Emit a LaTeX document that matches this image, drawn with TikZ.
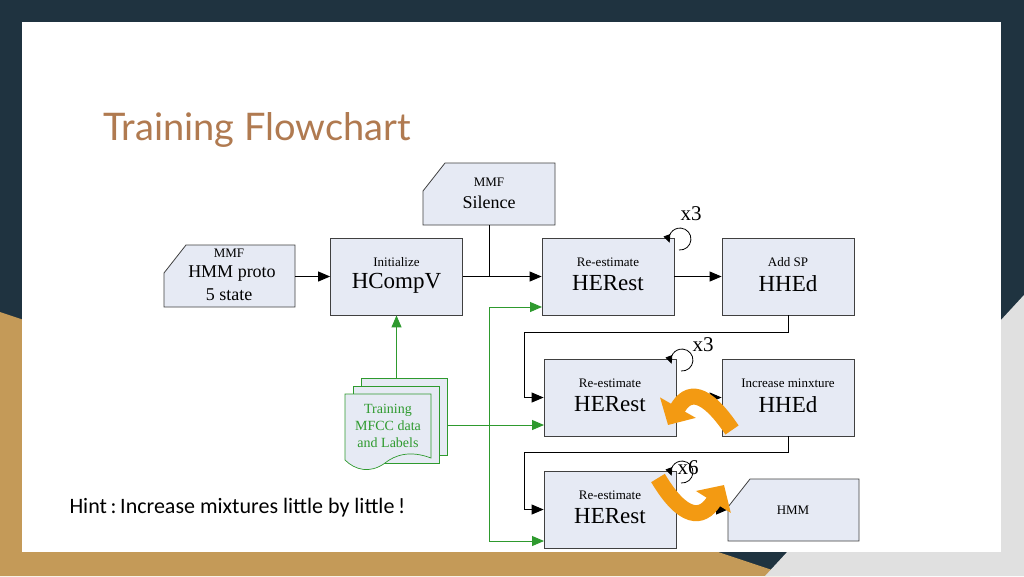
\documentclass[tikz,border=0pt]{standalone}
\usepackage{fontspec}
\setmainfont{Liberation Serif}
\newfontfamily\titlefont{Lato}
\newfontfamily\hintfont{Carlito}
\usetikzlibrary{arrows.meta}
\definecolor{navy}{HTML}{1F3340}
\definecolor{gold}{HTML}{C49A58}
\definecolor{boxfill}{HTML}{E6EAF4}
\definecolor{titlec}{HTML}{B07A50}
\definecolor{grn}{HTML}{2E9A2E}
\definecolor{orng}{HTML}{F39A12}
\tikzset{
 proc/.style={draw=black!75,fill=boxfill,line width=0.8pt,minimum width=132pt,minimum height=77pt,inner sep=0pt},
 conn/.style={draw=black,line width=1pt,-{Triangle[length=12pt,width=10pt]}},
 gconn/.style={draw=grn,line width=1pt,-{Triangle[length=12pt,width=10pt]}},
 smallt/.style={font=\fontsize{13}{14}\selectfont},
 bigt/.style={font=\fontsize{23}{24}\selectfont},
 midt/.style={font=\fontsize{18}{19}\selectfont},
 orarrow/.style={draw=orng,line width=16pt,-{Triangle[length=20pt,width=40pt]}},
 loop/.style={line width=0.8pt,-{Triangle[length=8pt,width=7pt]}},
}
\newcommand{\cutbox}[5]{% x1 y1 x2 y2 name
 \fill[boxfill,draw=black!75,line width=0.8pt] (#1+22,#2) -- (#3,#2) -- (#3,#4) -- (#1,#4) -- (#1,#2+28) -- cycle;
 \coordinate (#5) at ({(#1+#3)/2},{(#2+#4)/2});}
\begin{document}
\begin{tikzpicture}[x=1pt,y=-1pt]
\useasboundingbox (0,0) rectangle (1024,576);
\fill[navy] (0,0) rectangle (1024,576);
\fill[gold] (0,312) -- (790,576) -- (0,576) -- cycle;
\fill[black!12] (1024,295) -- (1024,576) -- (765,576) -- cycle;
\fill[white] (22,22) rectangle (1001,552);
\node[anchor=west,text=titlec,font=\titlefont\fontsize{38}{40}\selectfont] (title) at (100,130) {Training Flowchart};
\node[anchor=west,font=\hintfont\fontsize{22}{23}\selectfont] (hint) at (66,508) {Hint\,:\,Increase mixtures little by little\,!};
% cut-corner boxes
\cutbox{164}{245}{295}{307}{proto}
\node[smallt] (protoa) at (229,253) {MMF};
\node[midt] (protob) at (232,274) {HMM proto};
\node[midt] (protoc) at (229,295) {5 state};
\cutbox{423}{163}{555}{225}{sil}
\node[smallt] (sila) at (489,182) {MMF};
\node[midt] (silb) at (489,202) {Silence};
\cutbox{728}{479}{859}{541}{hmm}
\node[smallt] (hmmt) at (793,510) {HMM};
% process boxes
\foreach \n/\x/\y/\a/\b in {hcv/396.5/276.5/Initialize/HCompV, her1/608/276.5/Re-estimate/HERest, hhe1/788/276.5/Add SP/HHEd, her2/610/397.5/Re-estimate/HERest, hhe2/788/397.5/Increase minxture/HHEd, her3/610/509.5/Re-estimate/HERest}{
 \node[proc] (\n) at (\x,\y) {};
 \node[smallt] (\n a) at (\x,\y-14) {\a};
 \node[bigt] (\n b) at (\x,\y+7) {\b};}
% document stack
\foreach \d in {16,8}{
 \fill[boxfill,draw=grn,line width=0.7pt] (345+\d,378-\d+16) rectangle (431+\d,455-\d+16);}
\fill[boxfill,draw=grn,line width=0.7pt] (345,394) -- (431,394) -- (431,458) .. controls (410,450) and (395,455) .. (385,463) .. controls (370,474) and (355,470) .. (345,460) -- cycle;
\coordinate (doc) at (396.5,378);
\node[text=grn,align=center,font=\fontsize{14}{17}\selectfont] (doct) at (388,426) {Training\\MFCC data\\and Labels};
% black connectors
\draw[conn] (295,276.5) -- (hcv.west);
\draw[conn] (hcv.east) -- (her1.west);
\coordinate (jn) at (489,276.5);
\draw[line width=1pt] (489,225) -- (jn);
\draw[conn] (her1.east) -- (hhe1.west);
\coordinate (b1) at (524,332);
\draw[conn] (hhe1.south) |- (b1) -- (b1 |- her2.west) -- (her2.west);
\draw[conn] (her2.east) -- (hhe2.west);
\coordinate (b2) at (524,452);
\draw[conn] (hhe2.south) |- (b2) -- (b2 |- her3.west) -- (her3.west);
\draw[conn] (her3.east) -- (728,509.5);
% green connectors
\draw[gconn] (doc) -- (hcv.south);
\draw[gconn] (447,425) -- (544,425);
\coordinate (gs) at (489,307);
\coordinate (g2) at (489,541);
\draw[gconn] (gs) -- (542,307);
\draw[gconn] (gs) -- (g2) -- (544,541);
% self loops
\foreach \cx/\cy/\lx/\ly/\t in {674/238/691/214/x3,676/359/703/345/x3,676/471/688/468/x6}{
 \draw[loop] (\cx+5,\cy+12) arc[start angle=-95,end angle=200,radius=11pt];
 \node[font=\fontsize{21}{21}\selectfont] at (\lx,\ly) {\t};}
% orange arrows
\draw[orarrow] (732,430) .. controls (705,390) and (688,390) .. (668,425);
\draw[orarrow] (658,478) .. controls (683,520) and (702,520) .. (724,485);
\end{tikzpicture}
\end{document}
